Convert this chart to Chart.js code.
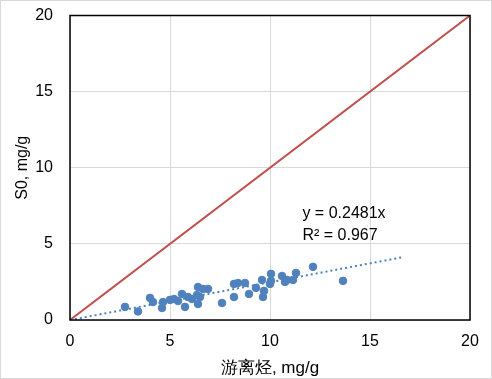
<!DOCTYPE html>
<html><head><meta charset="utf-8">
<script src="https://cdn.jsdelivr.net/npm/chart.js@4/dist/chart.umd.min.js"></script>
<style>html,body{margin:0;padding:0;background:#fff}#wrap{width:492px;height:379px}</style>
</head><body><div id="wrap"><canvas id="c" width="492" height="379"></canvas></div>
<script>
const freeHC = [2.75,3.4,4.0,4.15,4.6,4.65,5.0,5.2,5.4,5.6,5.75,5.9,6.1,6.35,6.4,6.4,6.5,6.65,6.9,7.6,8.2,8.2,8.4,8.75,8.95,9.3,9.6,9.7,9.65,10.0,10.05,10.05,10.6,10.75,10.85,11.15,11.3,12.15,13.65];
const s0 =     [0.86,0.56,1.45,1.18,0.79,1.18,1.32,1.38,1.25,1.71,0.86,1.51,1.38,1.64,2.17,1.05,1.51,2.04,2.04,1.12,1.51,2.37,2.43,2.43,1.71,2.11,2.63,1.91,1.51,2.37,2.57,3.03,2.89,2.5,2.63,2.63,3.09,3.49,2.57];
const refLineX = [0,20];
const refLineY = [0,20];
const trendX = [0,16.65];
const trendY = [0,4.13];
const xTicks = [0,5,10,15,20];
const yTicks = [0,5,10,15,20];
const eqText = "y = 0.2481x";
const r2Text = "R² = 0.967";
const xTitle = "游离烃, mg/g";
const yTitle = "S0, mg/g";

const pts = freeHC.map((x,i)=>({x:x,y:s0[i]}));
const ref = refLineX.map((x,i)=>({x:x,y:refLineY[i]}));
const trend = trendX.map((x,i)=>({x:x,y:trendY[i]}));
const FONT = "'Liberation Sans', Arial, sans-serif";

const deco = {
  id:'deco',
  afterDraw(chart){
    const {ctx, chartArea:a, scales} = chart;
    ctx.save();
    ctx.strokeStyle='#000'; ctx.lineWidth=1.5;
    ctx.strokeRect(a.left, a.top, a.right-a.left, a.bottom-a.top);
    ctx.strokeStyle='#d9d9d9'; ctx.lineWidth=1;
    ctx.strokeRect(0.5,0.5,491,378);
    ctx.fillStyle='#000';
    ctx.font = "16px " + FONT;
    ctx.textAlign='center'; ctx.textBaseline='middle';
    ctx.fillText(eqText, scales.x.getPixelForValue(13.7), scales.y.getPixelForValue(7.0));
    ctx.fillText(r2Text, scales.x.getPixelForValue(13.5), scales.y.getPixelForValue(5.55));
    ctx.restore();
  }
};

new Chart(document.getElementById('c'), {
  type:'scatter',
  data:{datasets:[
    {data:ref, type:'line', borderColor:'#c0504d', borderWidth:2, pointRadius:0, fill:false, order:2},
    {data:trend, type:'line', borderColor:'#4f81bd', borderWidth:2, borderDash:[2,3], pointRadius:0, fill:false, order:1},
    {data:pts, backgroundColor:'#4f81bd', borderColor:'#4f81bd', pointRadius:3.8, pointHoverRadius:3.8, order:0}
  ]},
  options:{
    responsive:false, animation:false, events:[],
    layout:{padding:{top:0, right:22, left:0, bottom:0}},
    plugins:{legend:{display:false}, tooltip:{enabled:false}},
    scales:{
      x:{type:'linear', min:0, max:20,
        afterBuildTicks(s){ s.ticks = xTicks.map(v=>({value:v})); },
        afterFit(s){ s.height = 59; s.paddingLeft = 0; s.paddingRight = 0; },
        grid:{color:'#d9d9d9', drawTicks:false},
        border:{display:false},
        ticks:{color:'#000', font:{family:FONT, size:16}, padding:12},
        title:{display:true, text:xTitle, color:'#000', font:{family:FONT, size:17}, padding:{top:2,bottom:0}}
      },
      y:{type:'linear', min:0, max:20,
        afterBuildTicks(s){ s.ticks = yTicks.map(v=>({value:v})); },
        afterFit(s){ s.width = 70; s.paddingTop = 15.5; s.paddingBottom = 0; },
        grid:{color:'#d9d9d9', drawTicks:false},
        border:{display:false},
        ticks:{color:'#000', font:{family:FONT, size:16}, padding:17},
        title:{display:true, text:yTitle, color:'#000', font:{family:FONT, size:16}, padding:{top:13,bottom:0}}
      }
    }
  },
  plugins:[deco]
});
</script></body></html>
